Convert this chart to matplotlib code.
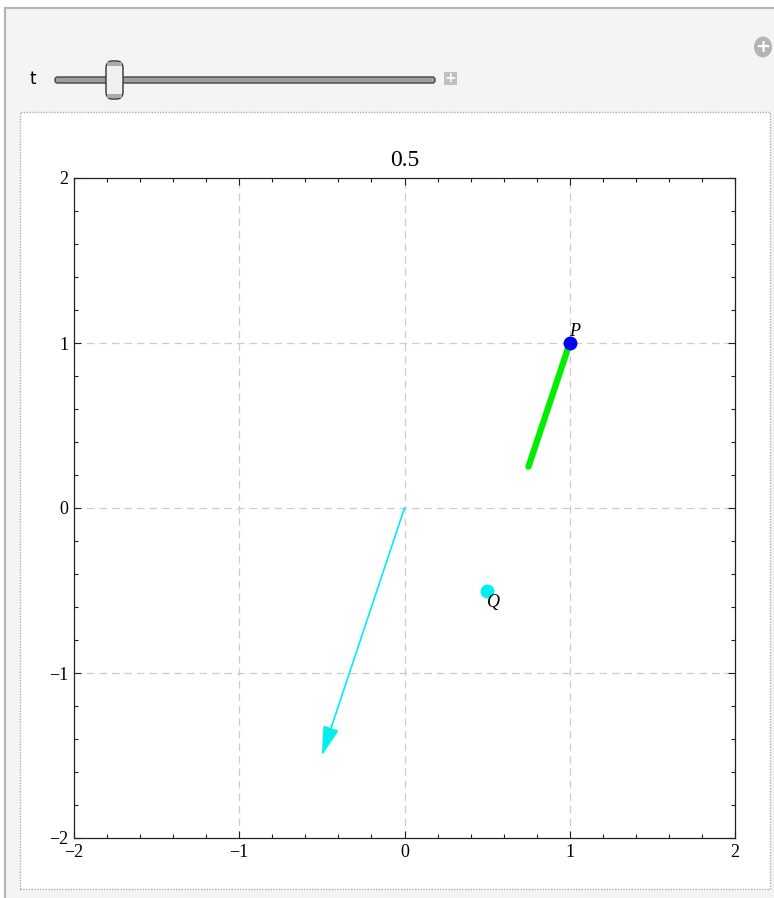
import matplotlib.pyplot as plt
from matplotlib.patches import Rectangle, FancyBboxPatch, Circle, FancyArrowPatch
import matplotlib.ticker as mticker

# parameter value shown on the slider / title
t_value = 0.5
p_point = (1.0, 1.0)
q_point = (0.5, -0.5)
seg_x = [0.75, 1.0]
seg_y = [0.25, 1.0]
arrow_start = (0.0, 0.0)
arrow_end = (-0.5, -1.5)
major_ticks = [-2, -1, 0, 1, 2]

W, H = 774, 898
fig = plt.figure(figsize=(W / 100, H / 100), dpi=100)
fig.patch.set_facecolor("white")


def px(x, y):
    # pixel coords (top-left origin) -> figure fraction
    return x / W, 1 - y / H


def box(x0, y0, x1, y1, z=-5, **kw):
    (fx0, fy1), (fx1, fy0) = px(x0, y0), px(x1, y1)
    r = Rectangle((fx0, fy0), fx1 - fx0, fy1 - fy0, transform=fig.transFigure,
                  zorder=z, **kw)
    fig.add_artist(r)
    return r


# outer manipulate panel
box(5, 8, 790, 905, z=-10, facecolor="#f4f4f4", edgecolor="#b4b4b4", lw=1.5)
# inner white content area with dotted border
box(20, 112, 770, 889, z=-9, facecolor="white", edgecolor="#b0b0b0", lw=1.0, ls=(0, (1, 1)))

# slider control
fig.text(*px(33, 79), "t", fontsize=12, family="DejaVu Sans", ha="center", va="center")
tx0, ty0 = px(55, 77)
tx1, ty1 = px(435, 83)
fig.add_artist(FancyBboxPatch((tx0, ty1), tx1 - tx0, ty0 - ty1,
                              boxstyle="round,pad=0,rounding_size=0.003",
                              transform=fig.transFigure, facecolor="#a0a0a0",
                              edgecolor="#444444", lw=1.0, zorder=-4))
hx0, hy0 = px(106, 61)
hx1, hy1 = px(123, 99)
fig.add_artist(FancyBboxPatch((hx0, hy1), hx1 - hx0, hy0 - hy1,
                              boxstyle="round,pad=0,rounding_size=0.008",
                              transform=fig.transFigure, facecolor="#f0f0f0",
                              edgecolor="#333333", lw=1.0, zorder=-3))
box(107, 62, 122, 66, z=-2, facecolor="#aaaaaa", edgecolor="none")
box(107, 94, 122, 98, z=-2, facecolor="#aaaaaa", edgecolor="none")

# small plus buttons
box(444, 72, 457, 85, z=-2, facecolor="#c0c0c0", edgecolor="none")
fig.text(*px(450.5, 78.5), "+", color="white", fontsize=10, weight="bold",
         ha="center", va="center")
cx, cy = px(763, 47)
fig.add_artist(Circle((cx, cy), 9 / W, transform=fig.transFigure,
                      facecolor="#b4b4b4", edgecolor="none", zorder=-2))
fig.text(cx, cy, "+", color="white", fontsize=13, weight="bold",
         ha="center", va="center")

# plot area
l, b = px(74, 838)
r, t = px(735, 178)
ax = fig.add_axes([l, b, r - l, t - b])
ax.set_xlim(-2, 2)
ax.set_ylim(-2, 2)

serif = "Liberation Serif"
ax.set_xticks(major_ticks)
ax.set_yticks(major_ticks)
ax.set_xticklabels(["\u22122", "\u22121", "0", "1", "2"], family=serif, fontsize=13)
ax.set_yticklabels(["\u22122", "\u22121", "0", "1", "2"], family=serif, fontsize=13)
ax.xaxis.set_minor_locator(mticker.MultipleLocator(0.2))
ax.yaxis.set_minor_locator(mticker.MultipleLocator(0.2))
ax.tick_params(which="both", direction="in", top=True, right=True,
               labeltop=False, labelright=False, width=0.8, color="#222222")
ax.tick_params(which="major", length=5, pad=4)
ax.tick_params(which="minor", length=3)
for s in ax.spines.values():
    s.set_linewidth(0.9)
    s.set_color("#222222")

for v in [-1, 0, 1]:
    ax.axvline(v, color="#cccccc", lw=0.9, ls=(0, (6, 4)), zorder=0)
    ax.axhline(v, color="#cccccc", lw=0.9, ls=(0, (6, 4)), zorder=0)

ax.set_title(f"{t_value}", family=serif, fontsize=17, pad=9)

# green segment ending at P
ax.plot(seg_x, seg_y, color="#00ee00", lw=4.5, solid_capstyle="round", zorder=2)
ax.plot(*p_point, "o", color="#0000ee", ms=9, zorder=3)
ax.text(p_point[0] + 0.03, p_point[1] + 0.02, "P", family=serif, style="italic",
        fontsize=13, ha="center", va="bottom")

ax.plot(*q_point, "o", color="#00f0f0", ms=9, zorder=3)
ax.text(q_point[0] + 0.04, q_point[1] - 0.02, "Q", family=serif, style="italic",
        fontsize=13, ha="center", va="top")

ax.add_patch(FancyArrowPatch(arrow_start, arrow_end,
                             arrowstyle="-|>,head_length=18,head_width=5",
                             mutation_scale=1, color="#00f0f0", lw=1.2,
                             shrinkA=0, shrinkB=0))

fig.savefig("out.png", dpi=100)
